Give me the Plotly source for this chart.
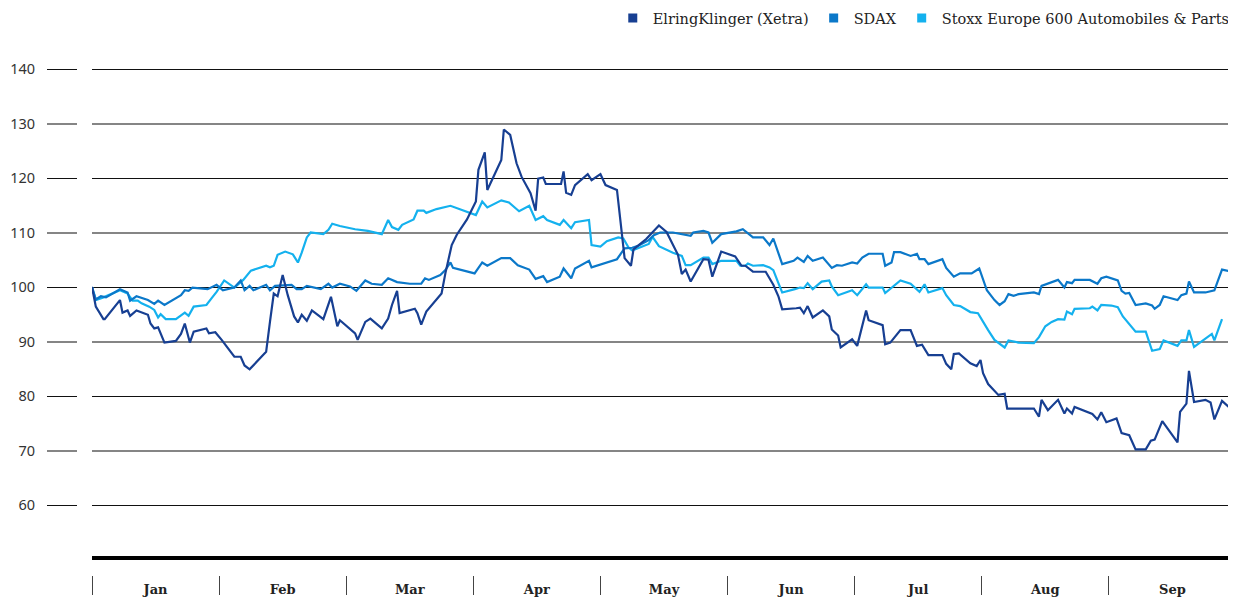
import plotly.graph_objects as go

# Month positions (0 = start of January, 9 = end of September)
months = ["Jan", "Feb", "Mar", "Apr", "May", "Jun", "Jul", "Aug", "Sep"]
grid_grey_vals = [70, 90, 110, 130]
grid_black_vals = [60, 80, 100, 120, 140]

elring_t = [0.00, 0.03, 0.09, 0.10, 0.22, 0.24, 0.28, 0.30, 0.35, 0.40, 0.44, 0.46, 0.49, 0.52, 0.54, 0.57,
            0.66, 0.70, 0.73, 0.77, 0.80, 0.90, 0.92, 0.97, 1.02, 1.12, 1.17, 1.20, 1.24, 1.37, 1.40, 1.43,
            1.46, 1.50, 1.54, 1.59, 1.62, 1.65, 1.69, 1.73, 1.82, 1.88, 1.93, 1.95, 2.07, 2.09, 2.15, 2.19,
            2.28, 2.33, 2.36, 2.40, 2.42, 2.54, 2.56, 2.59, 2.63, 2.75, 2.78, 2.83, 2.87, 2.95, 3.02, 3.04,
            3.09, 3.11, 3.22, 3.24, 3.29, 3.34, 3.38, 3.45, 3.49, 3.51, 3.55, 3.57, 3.69, 3.71, 3.73, 3.77,
            3.80, 3.90, 3.93, 4.00, 4.04, 4.13, 4.19, 4.24, 4.26, 4.36, 4.46, 4.52, 4.61, 4.64, 4.67, 4.71,
            4.81, 4.85, 4.88, 4.95, 5.06, 5.11, 5.14, 5.20, 5.30, 5.36, 5.40, 5.43, 5.54, 5.57, 5.60, 5.63,
            5.67, 5.75, 5.80, 5.82, 5.87, 5.89, 5.98, 6.02, 6.09, 6.11, 6.22, 6.24, 6.28, 6.36, 6.44, 6.49,
            6.53, 6.58, 6.69, 6.72, 6.76, 6.78, 6.82, 6.91, 6.96, 6.99, 7.01, 7.05, 7.13, 7.18, 7.20, 7.41,
            7.45, 7.47, 7.52, 7.60, 7.65, 7.67, 7.71, 7.73, 7.87, 7.91, 7.94, 7.98, 8.06, 8.10, 8.16, 8.21,
            8.29, 8.33, 8.36, 8.42, 8.54, 8.56, 8.61, 8.63, 8.67, 8.76, 8.80, 8.83, 8.89, 9.00]
elring_v = [100.0, 96.4, 94.1, 94.1, 97.6, 95.3, 95.7, 94.7, 95.7, 95.3, 94.9, 93.3, 92.4, 92.6, 91.5, 89.8,
            90.1, 91.4, 93.3, 89.8, 91.8, 92.4, 91.5, 91.7, 90.3, 87.2, 87.2, 85.6, 84.9, 88.1, 93.6, 98.8,
            98.3, 102.2, 98.5, 94.6, 93.5, 94.9, 93.8, 95.7, 94.1, 98.2, 92.8, 93.9, 91.5, 90.3, 93.6, 94.2,
            92.4, 94.2, 96.7, 99.3, 95.2, 96.0, 95.2, 93.1, 95.5, 98.8, 102.5, 107.7, 109.6, 112.4, 115.7, 121.5,
            124.7, 117.8, 123.3, 128.9, 127.9, 122.7, 120.2, 117.2, 114.0, 119.9, 120.1, 118.9, 118.9, 121.2, 117.3, 116.9,
            118.7, 120.7, 119.6, 120.7, 118.7, 117.8, 105.3, 103.9, 106.9, 108.8, 111.3, 110.1, 105.9, 102.4, 103.2, 101.0,
            105.1, 105.0, 101.9, 106.5, 105.6, 103.9, 103.9, 102.8, 102.8, 100.4, 98.3, 95.9, 96.1, 96.2, 95.2, 96.5,
            94.4, 95.7, 94.6, 92.2, 91.1, 88.9, 90.4, 89.2, 95.7, 93.9, 93.0, 89.5, 89.8, 92.1, 92.1, 89.2,
            89.4, 87.5, 87.5, 85.9, 84.9, 87.7, 87.8, 86.0, 85.5, 86.6, 84.2, 82.2, 80.2, 80.4, 77.7, 77.7,
            76.2, 79.3, 77.4, 79.3, 76.8, 77.7, 76.8, 78.0, 76.7, 75.7, 77.0, 75.2, 75.9, 73.2, 72.8, 70.2,
            70.2, 71.8, 72.0, 75.4, 71.5, 77.1, 78.6, 84.6, 78.9, 79.3, 78.8, 75.7, 79.1, 76.8]

sdax_t = [0.00, 0.03, 0.07, 0.11, 0.22, 0.28, 0.30, 0.35, 0.44, 0.49, 0.52, 0.57, 0.70, 0.73, 0.76, 0.79,
          0.91, 0.98, 1.03, 1.12, 1.17, 1.20, 1.24, 1.27, 1.37, 1.40, 1.44, 1.57, 1.61, 1.65, 1.69, 1.80,
          1.86, 1.89, 1.95, 2.03, 2.08, 2.15, 2.20, 2.28, 2.33, 2.40, 2.50, 2.59, 2.62, 2.65, 2.74, 2.78,
          2.82, 2.84, 3.01, 3.07, 3.11, 3.22, 3.29, 3.35, 3.44, 3.49, 3.55, 3.58, 3.68, 3.71, 3.77, 3.80,
          3.91, 3.93, 4.13, 4.19, 4.25, 4.29, 4.38, 4.42, 4.47, 4.57, 4.71, 4.73, 4.81, 4.85, 4.88, 4.95,
          5.07, 5.12, 5.20, 5.28, 5.33, 5.36, 5.43, 5.52, 5.55, 5.60, 5.63, 5.67, 5.75, 5.82, 5.86, 5.90,
          5.98, 6.02, 6.06, 6.11, 6.22, 6.24, 6.29, 6.31, 6.36, 6.44, 6.49, 6.51, 6.55, 6.58, 6.69, 6.72,
          6.78, 6.83, 6.92, 6.98, 7.04, 7.10, 7.14, 7.18, 7.21, 7.25, 7.29, 7.41, 7.45, 7.47, 7.60, 7.65,
          7.67, 7.71, 7.73, 7.85, 7.91, 7.94, 7.98, 8.07, 8.10, 8.13, 8.16, 8.21, 8.29, 8.34, 8.36, 8.40,
          8.43, 8.54, 8.57, 8.61, 8.63, 8.67, 8.76, 8.83, 8.89, 9.00]
sdax_v = [100.0, 97.7, 98.3, 98.1, 99.6, 99.0, 97.5, 98.3, 97.6, 96.9, 97.5, 96.7, 98.5, 99.4, 99.3, 99.9,
          99.6, 100.4, 99.4, 99.9, 101.2, 99.4, 100.2, 99.4, 100.4, 99.4, 100.2, 100.4, 99.6, 99.6, 100.2, 99.6,
          100.6, 99.9, 100.6, 100.1, 99.3, 101.2, 100.6, 100.4, 101.6, 100.9, 100.6, 100.6, 101.6, 101.3, 102.2, 103.1,
          104.5, 103.5, 102.5, 104.5, 103.9, 105.3, 105.3, 104.0, 103.2, 101.5, 102.0, 100.9, 101.9, 103.4, 101.6, 103.4,
          104.8, 103.6, 105.1, 107.1, 107.2, 107.5, 108.6, 109.5, 110.0, 110.0, 109.4, 110.0, 110.3, 110.0, 108.1, 109.7,
          110.2, 110.6, 109.1, 109.1, 107.7, 108.9, 104.2, 104.8, 105.4, 104.6, 105.7, 104.8, 105.4, 103.5, 104.0, 103.9,
          104.5, 104.3, 105.4, 106.1, 106.1, 103.9, 104.5, 106.4, 106.4, 105.7, 106.1, 105.1, 105.1, 104.2, 105.1, 103.5,
          101.9, 102.5, 102.5, 103.4, 99.4, 97.6, 96.7, 97.4, 98.7, 98.4, 98.7, 99.0, 98.7, 100.2, 101.3, 99.9,
          100.9, 100.7, 101.3, 101.3, 100.6, 101.6, 101.9, 101.2, 99.3, 98.8, 98.9, 96.7, 97.0, 96.6, 96.0, 96.7,
          98.3, 97.6, 98.5, 98.8, 101.0, 99.0, 99.0, 99.4, 103.2, 102.6]

stoxx_t = [0.00, 0.03, 0.09, 0.15, 0.22, 0.28, 0.32, 0.36, 0.39, 0.45, 0.49, 0.52, 0.54, 0.58, 0.66, 0.73,
           0.76, 0.80, 0.90, 0.94, 0.98, 1.04, 1.12, 1.19, 1.25, 1.37, 1.40, 1.43, 1.46, 1.52, 1.58, 1.62,
           1.65, 1.69, 1.72, 1.82, 1.86, 1.89, 1.95, 2.07, 2.17, 2.28, 2.33, 2.36, 2.41, 2.44, 2.53, 2.56,
           2.61, 2.63, 2.71, 2.82, 3.02, 3.07, 3.11, 3.22, 3.28, 3.36, 3.44, 3.49, 3.55, 3.58, 3.68, 3.71,
           3.77, 3.80, 3.91, 3.93, 4.00, 4.05, 4.14, 4.18, 4.22, 4.25, 4.38, 4.41, 4.46, 4.57, 4.64, 4.67,
           4.71, 4.81, 4.85, 4.88, 4.95, 5.07, 5.10, 5.14, 5.16, 5.20, 5.28, 5.33, 5.36, 5.40, 5.43, 5.53,
           5.57, 5.60, 5.63, 5.67, 5.74, 5.80, 5.82, 5.87, 5.98, 6.02, 6.09, 6.11, 6.22, 6.24, 6.36, 6.44,
           6.51, 6.55, 6.58, 6.69, 6.72, 6.78, 6.83, 6.91, 6.97, 7.05, 7.10, 7.18, 7.21, 7.29, 7.41, 7.45,
           7.50, 7.55, 7.60, 7.65, 7.67, 7.71, 7.73, 7.85, 7.87, 7.91, 7.94, 8.02, 8.07, 8.11, 8.21, 8.29,
           8.34, 8.40, 8.43, 8.54, 8.57, 8.61, 8.63, 8.67, 8.81, 8.83, 8.89]
stoxx_v = [100.0, 97.6, 98.1, 98.7, 99.4, 98.8, 97.5, 97.5, 97.0, 96.4, 95.8, 94.4, 95.0, 94.1, 94.1, 95.3,
           94.7, 96.4, 96.7, 97.9, 99.1, 101.2, 99.9, 101.3, 103.0, 103.9, 103.6, 103.9, 105.9, 106.5, 106.0, 104.5,
           106.3, 109.1, 110.0, 109.7, 110.5, 111.6, 111.2, 110.6, 110.3, 109.7, 112.3, 111.0, 110.5, 111.4, 112.4, 114.0,
           114.0, 113.6, 114.3, 114.9, 113.2, 115.7, 114.6, 115.9, 115.5, 113.9, 114.9, 112.3, 113.0, 112.3, 111.4, 112.3,
           110.8, 111.9, 112.3, 107.7, 107.4, 108.4, 109.1, 108.9, 107.3, 106.7, 107.9, 109.2, 107.5, 106.3, 105.7, 104.0,
           104.0, 105.4, 105.4, 104.2, 104.8, 104.8, 103.9, 103.9, 104.3, 103.9, 104.0, 103.6, 103.1, 100.7, 99.0, 99.6,
           99.9, 99.8, 100.7, 99.6, 101.0, 101.2, 100.1, 98.5, 99.4, 98.5, 100.5, 99.9, 99.9, 98.9, 101.2, 100.6,
           99.1, 100.5, 99.0, 99.8, 98.5, 96.7, 96.5, 95.4, 95.2, 92.1, 90.3, 88.9, 90.2, 89.8, 89.7, 90.8,
           92.8, 93.6, 94.1, 94.0, 95.5, 95.0, 96.0, 96.1, 96.4, 95.7, 96.7, 96.6, 96.3, 94.6, 91.8, 91.8,
           88.3, 88.6, 90.2, 89.2, 90.2, 90.2, 92.1, 89.0, 91.4, 90.2, 94.1]

series_names = ["ElringKlinger (Xetra)", "SDAX", "Stoxx Europe 600 Automobiles & Parts"]
series_colors = ["#173f92", "#0b78c9", "#14b1ee"]

# the page adds an 8px body margin; the figure is sized to fill the rest of the window
OFF = 8
W, H = 1236 - OFF, 597 - OFF
plot_left_px = 92 - OFF
axis_px = 556 - OFF
ytick_px = 77 - OFF
xtick_px = 575 - OFF
px_per_unit = 5.45
y_lo = 60 - (556 - 505) / px_per_unit
y_hi = 140 + (69 - OFF) / px_per_unit

fig = go.Figure()

# legend entries (square symbols)
for name, col in zip(series_names, series_colors):
    fig.add_trace(go.Scatter(x=[None], y=[None], mode="markers", name=name,
                             marker=dict(symbol="square", size=9, color=col),
                             showlegend=True, hoverinfo="skip"))

# lines (drawn light to dark so the ElringKlinger line lies on top)
for t, v, col, name in [(stoxx_t, stoxx_v, series_colors[2], series_names[2]),
                        (sdax_t, sdax_v, series_colors[1], series_names[1]),
                        (elring_t, elring_v, series_colors[0], series_names[0])]:
    fig.add_trace(go.Scatter(x=t, y=v, mode="lines", name=name, showlegend=False,
                             line=dict(color=col, width=2.2)))

# helper traces so the secondary axes are drawn
fig.add_trace(go.Scatter(x=[0, 9], y=[None, None], xaxis="x2", yaxis="y", showlegend=False, hoverinfo="skip"))
fig.add_trace(go.Scatter(x=[0, 9], y=[None, None], xaxis="x", yaxis="y2", showlegend=False, hoverinfo="skip"))

dom_x = [plot_left_px / W, 1]
dom_y = [(H - axis_px) / H, 1]
tickfont_y = dict(family="Noto Sans, Open Sans, sans-serif", size=14.5, color="#333333")

fig.update_layout(
    width=W, height=H,
    margin=dict(l=0, r=0, t=0, b=0, autoexpand=False),
    paper_bgcolor="white", plot_bgcolor="white",
    showlegend=True,
    legend=dict(orientation="h", x=0.999, xanchor="right", y=1.01, yanchor="top",
                font=dict(family="DejaVu Serif, serif", size=14.5, color="#222222"),
                bgcolor="rgba(0,0,0,0)", itemclick=False),
    xaxis=dict(domain=dom_x, range=[0, 9], showgrid=False, zeroline=False,
               showline=True, linecolor="#000000", linewidth=4,
               tickmode="array", tickvals=[i + 0.5 for i in range(len(months))], ticktext=months,
               ticks="", ticklabelstandoff=18,
               tickfont=dict(family="DejaVu Serif, serif", size=13, color="#222222", weight="bold")),
    xaxis2=dict(domain=dom_x, range=[0, 9], overlaying="x", anchor="free", position=(H - xtick_px) / H,
                showgrid=False, zeroline=False, showline=False, showticklabels=False,
                tickmode="array", tickvals=list(range(len(months) + 1)),
                ticks="outside", ticklen=19, tickwidth=1.3, tickcolor="#444444"),
    yaxis=dict(domain=dom_y, range=[y_lo, y_hi], anchor="free", position=ytick_px / W,
               tickmode="array", tickvals=grid_grey_vals, showgrid=True, gridcolor="#858585", gridwidth=2,
               zeroline=False, showline=False,
               ticks="outside", ticklen=30, tickwidth=2, tickcolor="#858585",
               ticklabelstandoff=9, tickfont=tickfont_y),
    yaxis2=dict(domain=dom_y, range=[y_lo, y_hi], anchor="free", position=ytick_px / W, overlaying="y",
                tickmode="array", tickvals=grid_black_vals, showgrid=True, gridcolor="#111111", gridwidth=1,
                zeroline=False, showline=False,
                ticks="outside", ticklen=30, tickwidth=1, tickcolor="#111111",
                ticklabelstandoff=9, tickfont=tickfont_y),
)

fig.write_html("out.html")
